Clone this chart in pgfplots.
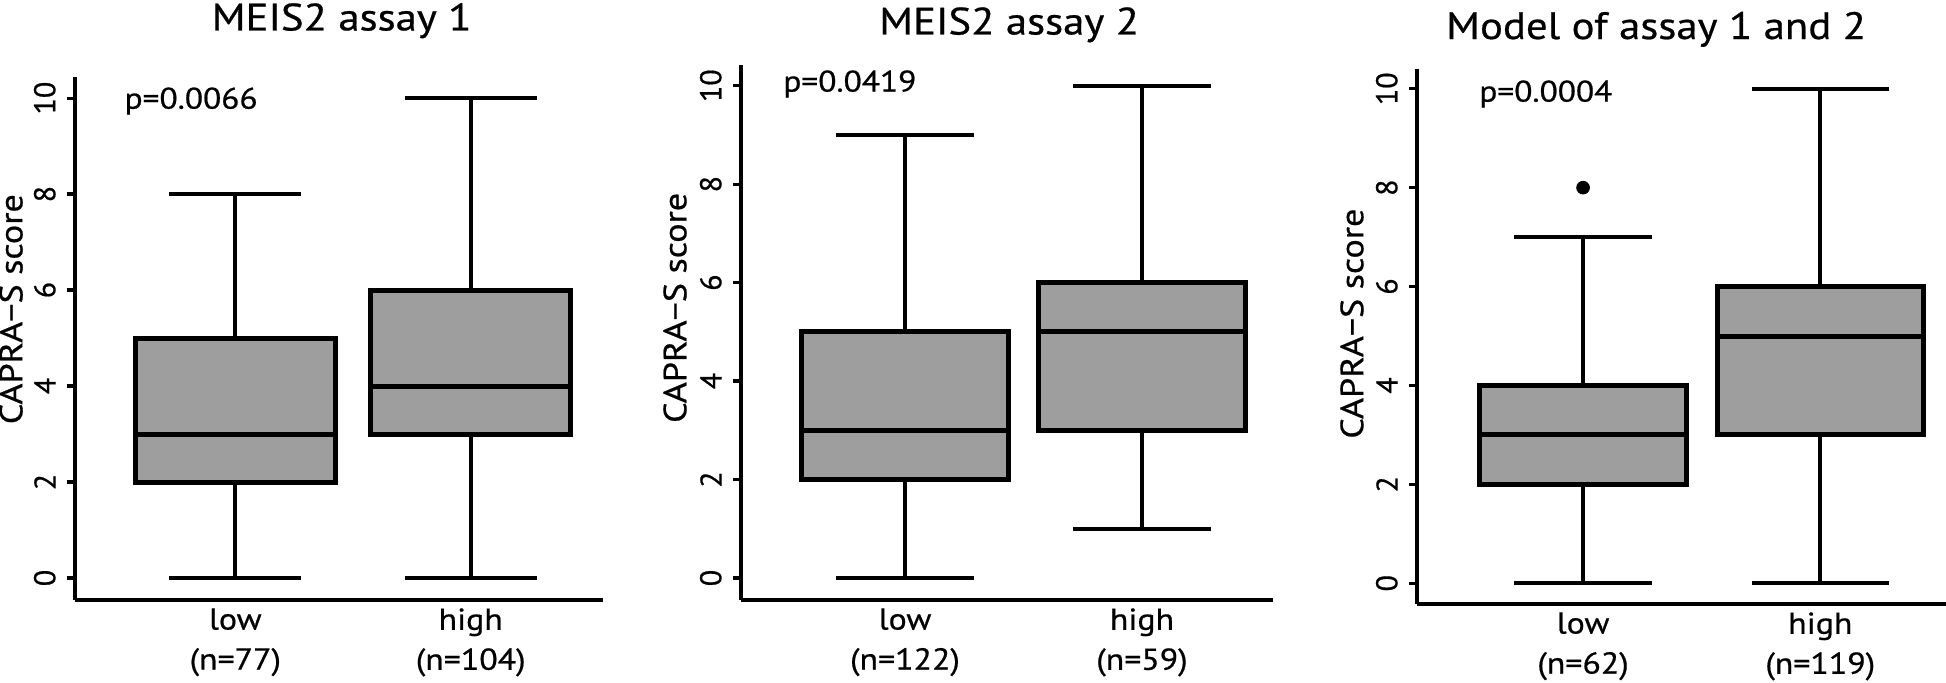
\documentclass[border=0pt]{standalone}
\usepackage{fontspec}
\setmainfont{PT Sans}[FakeStretch=1.12, FakeBold=0.6]
\newfontfamily\tickfont{PT Sans}[FakeBold=0.6]
\usepackage{pgfplots}
\pgfplotsset{compat=1.18}
\usepgfplotslibrary{statistics}

\definecolor{boxgray}{RGB}{158,158,158}
\newcommand\ticksize{\tickfont\fontsize{15pt}{18pt}\selectfont}
\newcommand\labsize{\fontsize{15.1pt}{20pt}\selectfont}
\newcommand\ylabsize{\fontsize{16.1pt}{20pt}\selectfont}
\newcommand\psize{\fontsize{14.9pt}{18pt}\selectfont}
\newcommand\titlesize{\fontsize{19.1pt}{22pt}\selectfont}

\tikzset{
  pval/.style={anchor=base west, font=\psize, inner sep=0pt},
  ptitle/.style={anchor=base, font=\titlesize, inner sep=0pt},
}

\pgfplotsset{
  capra/.style={
    scale only axis,
    axis x line=bottom, axis y line=left,
    axis line style={-, line width=1.6pt, black},
    every outer x axis line/.append style={-},
    every outer y axis line/.append style={-},
    ytick={0,2,4,6,8,10},
    xtick={1,2},
    tick align=outside,
    major tick length=4pt,
    ytick style={line width=1.6pt, black},
    xtick style={draw=none},
    /pgf/number format/assume math mode=true,
    yticklabel style={rotate=90, anchor=south, font=\ticksize, inner sep=0pt},
    xticklabel style={align=center, font=\labsize, anchor=north, inner sep=0pt},
    yticklabel shift=5.5pt,
    ylabel={CAPRA−S score},
    clip=false,
    boxplot/draw direction=y,
    boxplot/box extend=0.87,
    boxplot/whisker extend=0.58,
    boxplot/every box/.style={draw=black, line width=2.5pt, fill=boxgray},
    boxplot/every whisker/.style={draw=black, line width=2pt},
    boxplot/every median/.style={draw=black, line width=2.5pt},
  },
}

\begin{document}
\begin{tikzpicture}
\useasboundingbox (0,0) rectangle (973pt,-341.5pt);

% panel 1
\begin{axis}[capra,
  at={(37.5pt,-38.5pt)}, anchor=north west,
  width=264pt, height=261.5pt,
  xmin=0.319, xmax=2.562, ymin=-0.458, ymax=10.44,
  xticklabels={{low\\(n=77)},{high\\(n=104)}},
  ylabel style={at={(axis description cs:-0.121,0.556)}, anchor=center, font=\ylabsize},
]
\addplot[boxplot prepared={draw position=1, lower whisker=0, lower quartile=2,
  median=3, upper quartile=5, upper whisker=8, box extend=0.85, whisker extend=0.56}] coordinates {};
\addplot[boxplot prepared={draw position=2, lower whisker=0, lower quartile=3,
  median=4, upper quartile=6, upper whisker=10, box extend=0.85, whisker extend=0.56}] coordinates {};
\node[pval] at (axis cs:0.528,9.78) {p=0.0066};
\node[ptitle] at (axis description cs:0.505,1.089) {MEIS2 assay 1};
\end{axis}

% panel 2
\begin{axis}[capra,
  at={(370.5pt,-32.5pt)}, anchor=north west,
  width=266pt, height=267.5pt,
  xmin=0.308, xmax=2.553, ymin=-0.446, ymax=10.42,
  xticklabels={{low\\(n=122)},{high\\(n=59)}},
  ylabel style={at={(axis description cs:-0.124,0.546)}, anchor=center, font=\ylabsize},
]
\addplot[boxplot prepared={draw position=1, lower whisker=0, lower quartile=2,
  median=3, upper quartile=5, upper whisker=9}] coordinates {};
\addplot[boxplot prepared={draw position=2, lower whisker=1, lower quartile=3,
  median=5, upper quartile=6, upper whisker=10}] coordinates {};
\node[pval] at (axis cs:0.485,9.88) {p=0.0419};
\node[ptitle] at (axis description cs:0.504,1.057) {MEIS2 assay 2};
\end{axis}

% panel 3
\begin{axis}[capra,
  at={(708.5pt,-34.5pt)}, anchor=north west,
  width=264.5pt, height=267.5pt,
  xmin=0.30, xmax=2.53, ymin=-0.42, ymax=10.40,
  xticklabels={{low\\(n=62)},{high\\(n=119)}},
  ylabel style={at={(axis description cs:-0.123,0.524)}, anchor=center, font=\ylabsize},
]
\addplot[boxplot prepared={draw position=1, lower whisker=0, lower quartile=2,
  median=3, upper quartile=4, upper whisker=7},
  mark=*, mark size=3.2pt, mark options={black, fill=black}] coordinates {(1,8)};
\addplot[boxplot prepared={draw position=2, lower whisker=0, lower quartile=3,
  median=5, upper quartile=6, upper whisker=10}] coordinates {};
\node[pval] at (axis cs:0.561,9.74) {p=0.0004};
\node[ptitle] at (axis description cs:0.452,1.056) {Model of assay 1 and 2};
\end{axis}
\end{tikzpicture}
\end{document}
